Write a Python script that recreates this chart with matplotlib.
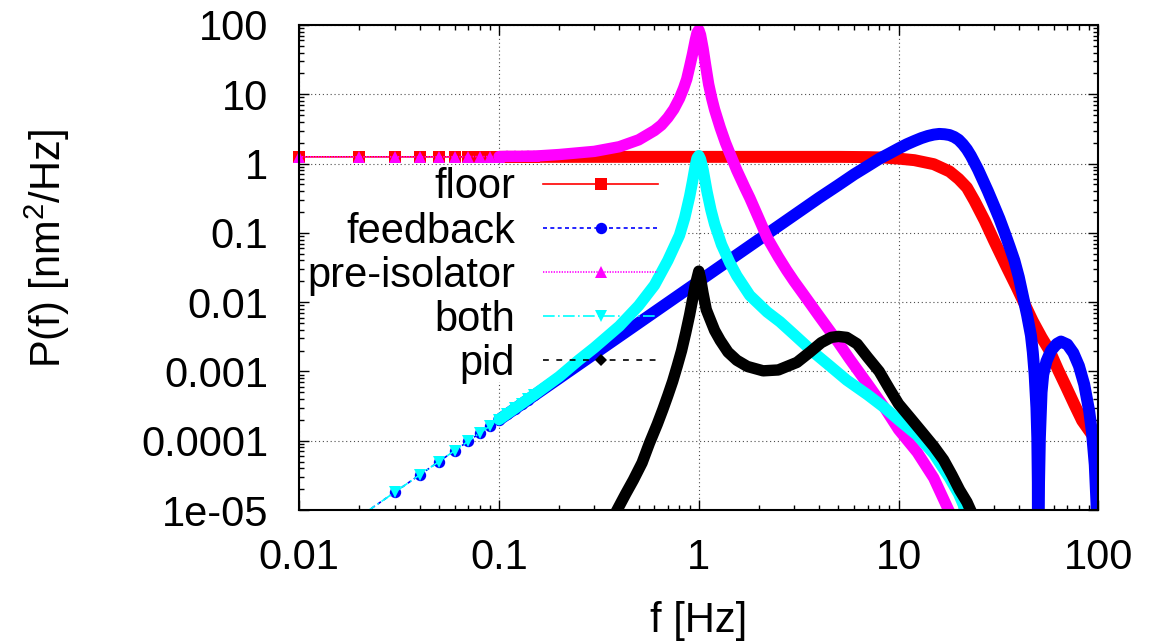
import matplotlib
matplotlib.use("Agg")
import matplotlib.pyplot as plt
from matplotlib.lines import Line2D
from matplotlib.patches import Rectangle
from matplotlib.legend_handler import HandlerTuple
from matplotlib.ticker import FixedLocator, FixedFormatter, LogLocator, NullFormatter

plt.rcParams['font.family'] = ['Liberation Sans', 'DejaVu Sans']
plt.rcParams['mathtext.fontset'] = 'custom'
plt.rcParams['mathtext.rm'] = 'Liberation Sans'
plt.rcParams['mathtext.it'] = 'Liberation Sans:italic'
plt.rcParams['mathtext.bf'] = 'Liberation Sans:bold'

# ---------------- data ----------------
f_low = [0.01, 0.02, 0.03, 0.04, 0.05, 0.06, 0.07, 0.08, 0.09, 0.10,
         0.11, 0.12, 0.13, 0.14, 0.15]

floor_f = f_low + [0.2, 0.3, 0.5, 1, 2, 5, 7, 8.5, 10, 12, 15, 18, 20, 22, 24, 27,
                   30, 32, 35, 39, 43, 47, 52, 57, 63, 69, 76, 83, 90, 100]
floor_p = [1.25] * 15 + [1.25, 1.25, 1.25, 1.25, 1.25, 1.25, 1.24, 1.22, 1.18, 1.12,
                         0.98, 0.77, 0.6, 0.45, 0.29, 0.15, 0.078, 0.053, 0.031,
                         0.0165, 0.0091, 0.0053, 0.0031, 0.002, 0.00104, 0.0006,
                         0.00033, 0.000195, 0.00014, 0.000092]

feedback_f = f_low + [0.2, 0.3, 0.5, 0.7, 1, 1.5, 2, 3, 4, 5, 6, 7, 8, 9, 10, 11, 12,
                      13, 14, 15, 16, 17, 18, 19, 20, 21, 22, 23, 24, 25, 26, 28, 30,
                      32, 34, 36, 38, 40, 42, 44, 46, 47, 48, 49, 49.5, 49.8, 50,
                      50.2, 50.5, 51, 52, 53, 55, 58, 62, 65, 70, 75, 80, 85, 90,
                      93, 96, 98, 99, 100]
feedback_p = [2.0e-6, 8.0e-6, 1.8e-5, 3.2e-5, 5.0e-5, 7.2e-5, 9.8e-5, 1.28e-4,
              1.62e-4, 2.0e-4, 2.42e-4, 2.88e-4, 3.38e-4, 3.92e-4, 4.5e-4,
              8.0e-4, 1.8e-3, 5.0e-3, 9.8e-3, 0.02, 0.045, 0.08, 0.18, 0.32, 0.49,
              0.7, 0.92, 1.17, 1.4, 1.65, 1.9, 2.12, 2.33, 2.5, 2.62, 2.68, 2.65,
              2.58, 2.42, 2.2, 1.9, 1.6, 1.3, 1.03, 0.82, 0.64, 0.4, 0.25, 0.16,
              0.1, 0.063, 0.04, 0.023, 0.012, 0.0065, 0.0033, 0.0019, 9e-4, 3e-4,
              1.1e-4, 2.5e-5, 1e-7, 3e-6, 2.5e-5, 1.1e-4, 5e-4, 9e-4, 1.4e-3,
              2.0e-3, 2.5e-3, 2.7e-3, 2.45e-3, 1.85e-3, 1.2e-3, 6.5e-4, 2.7e-4,
              1.3e-4, 4.5e-5, 1.2e-5, 3.5e-6, 1e-7]

preiso_f = f_low + [0.2, 0.3, 0.4, 0.5, 0.6, 0.65, 0.7, 0.75, 0.8, 0.84, 0.87, 0.9,
                    0.93, 0.96, 0.98, 1.0, 1.02, 1.05, 1.08, 1.12, 1.16, 1.2, 1.28,
                    1.36, 1.43, 1.55, 1.7, 1.8, 2.0, 2.2, 2.5, 2.75, 3.0, 3.5, 4.0,
                    5.0, 5.7, 7.0, 8.5, 10, 12.4, 15, 17.8, 19]
preiso_p = [1.25, 1.25, 1.25, 1.25, 1.25, 1.25, 1.26, 1.26, 1.26, 1.26, 1.27, 1.27,
            1.27, 1.28, 1.28,
            1.35, 1.5, 1.75, 2.2, 3.0, 3.6, 4.6, 6.1, 8.7, 12.3, 16.5, 25, 38, 60,
            77, 85, 72, 46, 27, 14, 8.8, 6.0, 3.3, 2.0, 1.4, 0.8, 0.45, 0.32, 0.16,
            0.085, 0.045, 0.029, 0.02, 0.0108, 0.0063, 0.0026, 0.0015, 6.6e-4,
            3.0e-4, 1.45e-4, 6.8e-5, 2.9e-5, 1.0e-5, 7e-6]

both_f = f_low + [0.2, 0.25, 0.3, 0.4, 0.5, 0.6, 0.7, 0.8, 0.85, 0.9, 0.93, 0.96,
                  0.98, 1.0, 1.02, 1.05, 1.1, 1.15, 1.2, 1.3, 1.43, 1.55, 1.8, 2.2,
                  2.55, 3.0, 3.74, 4.5, 5.5, 7.0, 8.5, 10, 12.4, 15, 18, 20, 22, 24]
both_p = [2.0e-6, 8.0e-6, 1.8e-5, 3.2e-5, 5.0e-5, 7.2e-5, 9.8e-5, 1.29e-4, 1.63e-4,
          2.02e-4, 2.45e-4, 2.92e-4, 3.44e-4, 4.0e-4, 4.6e-4,
          8.4e-4, 1.45e-3, 2.2e-3, 4.5e-3, 8.9e-3, 0.0176, 0.04, 0.092, 0.165,
          0.337, 0.55, 0.92, 1.2, 1.3, 1.15, 0.82, 0.39, 0.214, 0.134, 0.0675,
          0.037, 0.024, 0.0125, 0.0072, 0.0052, 0.0034, 0.0019, 0.00122, 7.5e-4,
          4.6e-4, 3.0e-4, 2.0e-4, 1.2e-4, 6.5e-5, 2.9e-5, 1.7e-5, 9e-6, 5e-6]

pid_f = [0.3, 0.37, 0.39, 0.43, 0.47, 0.52, 0.566, 0.62, 0.66, 0.7, 0.74, 0.78,
         0.82, 0.86, 0.9, 0.93, 0.96, 1.0, 1.02, 1.05, 1.09, 1.13, 1.2, 1.28, 1.4,
         1.55, 1.75, 2.1, 2.5, 3.1, 3.6, 4.1, 4.6, 5.0, 5.5, 6.2, 7.0, 8.0, 9.0, 10,
         11.5, 13.2, 15, 16.8, 18.5, 20.2, 22, 23.3, 25]
pid_p = [2.5e-6, 7.5e-6, 1.0e-5, 1.7e-5, 2.7e-5, 4.8e-5, 9.2e-5, 1.74e-4, 2.8e-4,
         4.5e-4, 7.2e-4, 1.2e-3, 2.0e-3, 3.6e-3, 6.6e-3, 0.0108, 0.0175, 0.028,
         0.022, 0.0135, 0.0078, 0.006, 0.0039, 0.0028, 0.0019, 0.00145, 0.00118,
         0.00102, 0.00105, 0.00135, 0.0019, 0.0026, 0.0031, 0.0032, 0.0031,
         0.0025, 0.0016, 0.001, 5.6e-4, 3.4e-4, 2.1e-4, 1.3e-4, 8.3e-5, 5.3e-5,
         3.2e-5, 1.95e-5, 1.3e-5, 9e-6, 5e-6]

series_names = ["floor", "feedback", "pre-isolator", "both", "pid"]
xtick_vals = [0.01, 0.1, 1, 10, 100]
xtick_labels = ["0.01", "0.1", "1", "10", "100"]
ytick_vals = [1e-5, 1e-4, 1e-3, 1e-2, 1e-1, 1, 10, 100]
ytick_labels = ["1e-05", "0.0001", "0.001", "0.01", "0.1", "1", "10", "100"]

# ---------------- styles ----------------
colors = ["#ff0000", "#0000ff", "#ff00ff", "#00ffff", "#000000"]
markers = ["s", "o", "^", "v", "D"]
msizes = [8.4, 8.2, 8.6, 8.6, 6.0]
thin_ls = ["-", (0, (2.4, 2.0)), (0, (0.8, 0.8)), (0, (7, 2, 1, 2)), (0, (3.5, 4.5))]
thick_w = [8.6, 8.6, 8.2, 8.2, 8.2]
FS = 30
YMIN, YMAX = 1e-5, 100

fig = plt.figure(figsize=(11.6, 6.44), dpi=100)
pos = [299.3 / 1160, 1 - 510 / 644, (1098.3 - 299.3) / 1160, 485 / 644]

# background axes: only the dotted grid
ax_bg = fig.add_axes(pos)
ax = fig.add_axes(pos, sharex=ax_bg, sharey=ax_bg)
ax_bg.set_zorder(0)
ax.set_zorder(1)
ax.patch.set_visible(False)
for a in (ax_bg, ax):
    a.set_xscale('log')
    a.set_yscale('log')
ax.set_xlim(0.01, 100)
ax.set_ylim(YMIN, YMAX)

ax_bg.xaxis.set_major_locator(FixedLocator(xtick_vals))
ax_bg.yaxis.set_major_locator(FixedLocator(ytick_vals))
ax_bg.grid(True, which='major', color='0.3', linestyle=(0, (1, 2.5)), linewidth=0.8)
ax_bg.tick_params(which='both', length=0, labelbottom=False, labelleft=False)
for s in ax_bg.spines.values():
    s.set_visible(False)

# opaque key background (hides the grid behind the legend)
ax.add_patch(Rectangle((0.0, 0.264), 0.4815, 0.441, transform=ax.transAxes,
                       facecolor='white', edgecolor='none', zorder=0.5))

datasets = [(floor_f, floor_p), (feedback_f, feedback_p), (preiso_f, preiso_p),
            (both_f, both_p), (pid_f, pid_p)]

handles = []
for i, (f, p) in enumerate(datasets):
    z = 2 + i * 0.1
    c = colors[i]
    thin, = ax.plot(f, p, color=c, lw=1.2, linestyle=thin_ls[i], zorder=z)
    dense_f = [fv for fv in f if fv >= 0.1]
    dense_p = [pv for fv, pv in zip(f, p) if fv >= 0.1]
    ax.plot(dense_f, dense_p, color=c, lw=thick_w[i], solid_capstyle='round',
            solid_joinstyle='round', zorder=z + 0.01)
    sp_f = [fv for fv, pv in zip(f, p) if fv <= 0.15 and YMIN <= pv <= YMAX]
    sp_p = [pv for fv, pv in zip(f, p) if fv <= 0.15 and YMIN <= pv <= YMAX]
    ax.plot(sp_f, sp_p, linestyle='none', marker=markers[i], markersize=msizes[i],
            color=c, markeredgewidth=0, clip_on=False, zorder=z + 0.02)
    proxy_mk = Line2D([], [], linestyle='none', marker=markers[i],
                      markersize=msizes[i], color=c, markeredgewidth=0)
    handles.append((thin, proxy_mk))

ax.xaxis.set_major_locator(FixedLocator(xtick_vals))
ax.xaxis.set_major_formatter(FixedFormatter(xtick_labels))
ax.yaxis.set_major_locator(FixedLocator(ytick_vals))
ax.yaxis.set_major_formatter(FixedFormatter(ytick_labels))
ax.xaxis.set_minor_locator(LogLocator(base=10, subs=range(2, 10), numticks=20))
ax.yaxis.set_minor_locator(LogLocator(base=10, subs=range(2, 10), numticks=20))
ax.xaxis.set_minor_formatter(NullFormatter())
ax.yaxis.set_minor_formatter(NullFormatter())
ax.tick_params(which='both', direction='in', top=True, right=True, width=1.0,
               colors='black')
ax.tick_params(which='major', length=7.5, labelsize=FS)
ax.tick_params(which='minor', length=3.6)
ax.tick_params(axis='x', which='major', pad=20)
ax.tick_params(axis='y', which='major', pad=22.5)
for s in ax.spines.values():
    s.set_linewidth(1.5)

ax.set_xlabel("f [Hz]", fontsize=FS, va='baseline')
ax.xaxis.set_label_coords(0.5, (510 - 632) / 485)
ax.set_ylabel(r"P(f) [nm$^2$/Hz]", fontsize=FS, va='baseline')
ax.yaxis.set_label_coords((60.7 - 299.3) / 799, (510 - 249) / 485)

leg = ax.legend(handles, series_names, handler_map={tuple: HandlerTuple(ndivide=1, pad=0)},
                loc='center right', bbox_to_anchor=(0.449, 0.483),
                bbox_transform=ax.transAxes, frameon=False, fontsize=FS,
                markerfirst=False, borderpad=0, borderaxespad=0,
                handlelength=2.76, handletextpad=0.67, labelspacing=0.1,
                numpoints=1)
leg.set_zorder(5)

fig.savefig("out.png", dpi=100)
